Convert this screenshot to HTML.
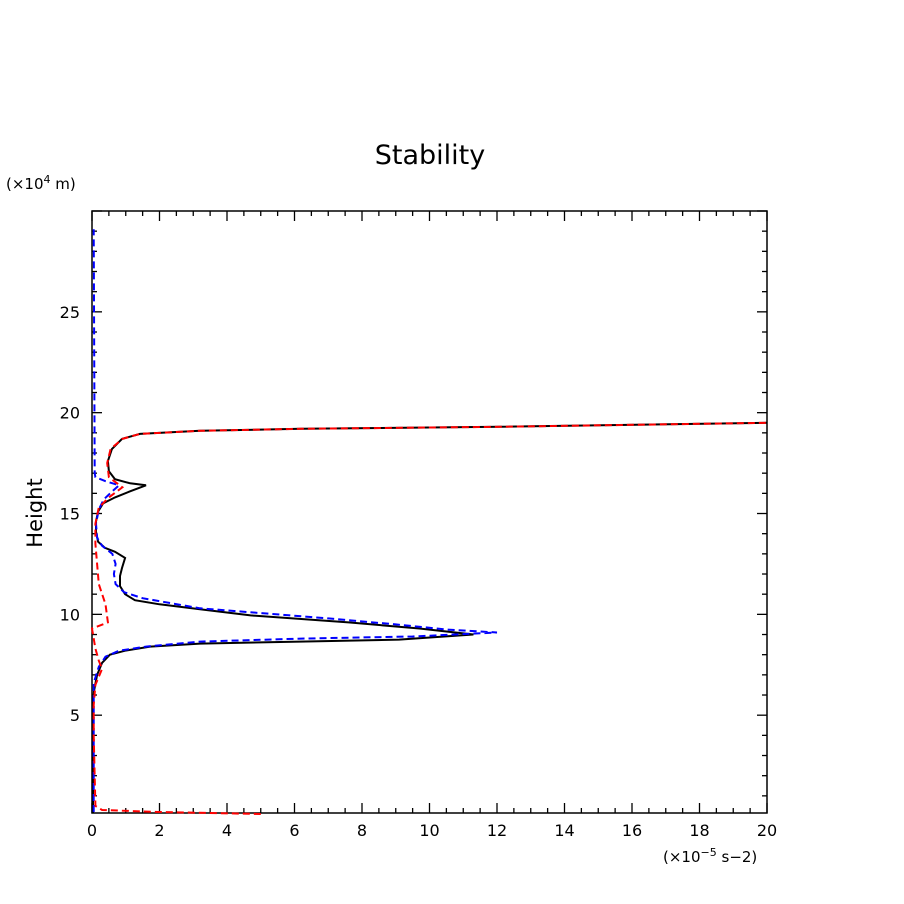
<!DOCTYPE html>
<html><head><meta charset="utf-8"><style>body{margin:0;background:#fff}svg{display:block}text{font-family:"DejaVu Sans","Liberation Sans",sans-serif}</style></head>
<body>
<svg id="c" width="904" height="904" viewBox="0 0 904 904" xmlns="http://www.w3.org/2000/svg">
<text x="430" y="164" font-size="27" text-anchor="middle">Stability</text>
<text x="6" y="189" font-size="15">(×10<tspan font-size="11" dy="-6">4</tspan><tspan dy="6"> m)</tspan></text>
<text x="0" y="0" font-size="21" text-anchor="middle" transform="translate(42,513) rotate(-90)">Height</text>
<text x="663" y="862" font-size="15">(×10<tspan font-size="11" dy="-6">−5</tspan><tspan dy="6"> s−2)</tspan></text>
<g id="ax"></g><g id="lines"></g>
</svg>
<script>
const xTicks=[0,2,4,6,8,10,12,14,16,18,20];
const yTicks=[5,10,15,20,25];
const blackX=[0.03,0.03,0.06,0.15,0.3,0.53,0.98,1.72,3.2,6.16,9.1,11.3,9.7,7.6,4.7,3.2,2.0,1.27,0.98,0.83,0.83,0.89,0.98,0.68,0.38,0.18,0.12,0.12,0.18,0.33,0.68,1.13,1.6,1.13,0.68,0.5,0.47,0.59,0.89,1.42,3.2,6.2,12.1,20];
const blackY=[0.15,5.7,6.2,7.0,7.6,8.0,8.2,8.4,8.55,8.65,8.75,9.0,9.3,9.6,9.95,10.25,10.5,10.7,11.0,11.4,11.9,12.3,12.8,13.1,13.3,13.6,14.1,14.6,15.1,15.5,15.8,16.1,16.4,16.5,16.7,17.1,17.6,18.2,18.7,18.95,19.1,19.2,19.3,19.5];
const blueX=[0.05,0.05,0.2,0.4,0.8,1.6,3.2,6.2,9.5,12,10.5,9.0,7.0,3.2,1.5,0.95,0.7,0.65,0.7,0.6,0.3,0.15,0.12,0.2,0.35,0.6,0.8,0.4,0.1,0.08,0.05];
const blueY=[0.2,6.6,7.4,7.9,8.2,8.4,8.65,8.8,8.9,9.1,9.25,9.5,9.8,10.3,10.8,11.1,11.5,12.0,12.5,13.0,13.4,13.8,14.5,15.2,15.7,16.1,16.4,16.6,16.8,17.0,29.1];
const redX=[5,2,0.3,0.1,0.05,0.05,0.1,0.3,0.2,0.1,0,0.47,0.4,0.2,0.15,0.1,0.1,0.2,0.5,0.9,0.5,0.45,0.55,0.9,1.42,3.2,6.2,12.1,20];
const redY=[0.1,0.2,0.3,0.5,4.0,5.5,6.5,7.3,7.7,8.3,9.3,9.6,10.5,11.5,12.5,13.5,14.5,15.3,15.8,16.3,16.8,17.5,18.2,18.7,18.95,19.1,19.2,19.3,19.5];
const L=92,R=767,T=211,B=813,XMIN=0,XMAX=20,YMIN=0.15,YMAX=30;
const sx=v=>L+(v-XMIN)/(XMAX-XMIN)*(R-L);
const sy=v=>B-(v-YMIN)/(YMAX-YMIN)*(B-T);
const NS="http://www.w3.org/2000/svg";
const ax=document.getElementById('ax'),ln=document.getElementById('lines');
function mk(t,a,p){const e=document.createElementNS(NS,t);for(const k in a)e.setAttribute(k,a[k]);p.appendChild(e);return e;}
const frame=mk('rect',{x:L,y:T,width:R-L,height:B-T,fill:'none',stroke:'#000','stroke-width':1.5},ax);


for(let v=0;v<=20.001;v+=0.5){const major=Math.abs(v/2-Math.round(v/2))<1e-6;const h=major?10:5;
 mk('line',{x1:sx(v),x2:sx(v),y1:B,y2:B-h,stroke:'#000','stroke-width':1.3},ax);
 mk('line',{x1:sx(v),x2:sx(v),y1:T,y2:T+h,stroke:'#000','stroke-width':1.3},ax);}
for(let v=1;v<=30;v++){const major=v%5===0;const h=major?10:5;
 mk('line',{x1:L,x2:L+h,y1:sy(v),y2:sy(v),stroke:'#000','stroke-width':1.3},ax);
 mk('line',{x1:R,x2:R-h,y1:sy(v),y2:sy(v),stroke:'#000','stroke-width':1.3},ax);}
xTicks.forEach(v=>{const t=mk('text',{x:sx(v),y:836,'font-size':16,'text-anchor':'middle'},ax);t.textContent=v;
 
 });
yTicks.forEach(v=>{const t=mk('text',{x:80,y:sy(v)+6,'font-size':16,'text-anchor':'end'},ax);t.textContent=v;
 
 });
function series(xs,ys,col,dash,name){const d=xs.map((x,i)=>(i?'L':'M')+sx(x).toFixed(1)+','+sy(ys[i]).toFixed(1)).join('');
 const p=mk('path',{d:d,fill:'none',stroke:col,'stroke-width':2},ln);if(dash)p.setAttribute('stroke-dasharray','7,4');
 
 }
series(blackX,blackY,'#000',false,'black-series');
series(blueX,blueY,'#0000ff',true,'blue-series');
series(redX,redY,'#ff0000',true,'red-series');
</script>
</body></html>
